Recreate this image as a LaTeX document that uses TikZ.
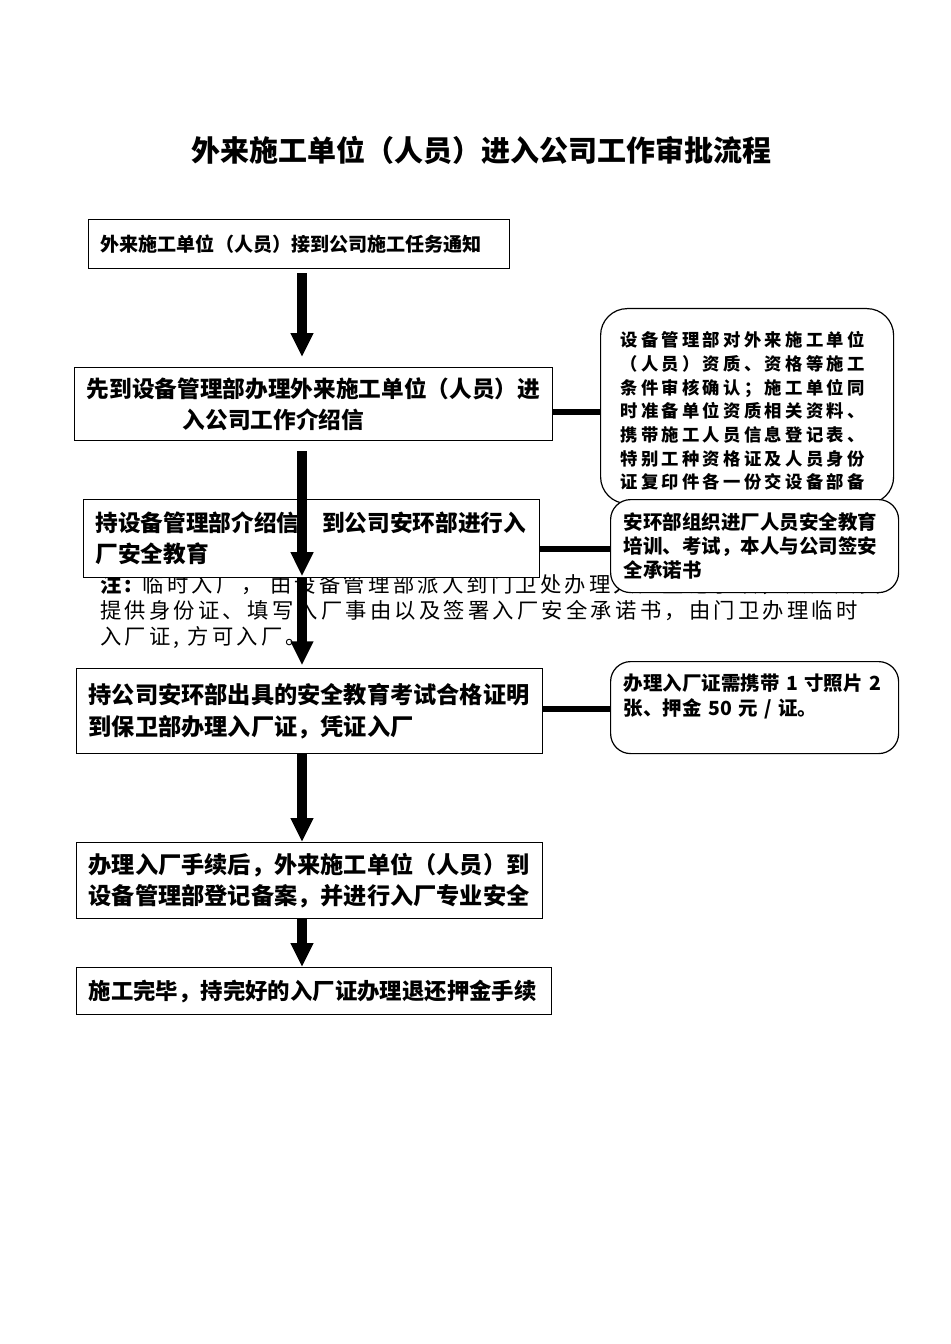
\documentclass[tikz,border=0pt]{standalone}
\usepackage{fontspec}
\setmainfont{Noto Sans CJK SC}
\newfontfamily\notefont{Noto Sans CJK SC}[LetterSpace=15]
\newfontfamily\sidefont{Noto Sans CJK SC}[LetterSpace=19]
\usetikzlibrary{arrows.meta}
\begin{document}
\begin{tikzpicture}[x=0.75pt,y=-0.75pt]
\tikzset{
  flowbox/.style={draw=black, line width=0.9pt, fill=white, rectangle, anchor=north west,
    align=left, inner ysep=0pt, inner xsep=9pt},
  sidebox/.style={draw=black, line width=0.9pt, fill=white, rectangle, rounded corners=15pt,
    anchor=north west, align=left, inner ysep=0pt},
  arr/.style={line width=7.5pt, -{Triangle[width=16pt,length=18pt]}},
  conn/.style={line width=5pt}
}
\useasboundingbox (0,0) rectangle (950,1344);

% title
\node[font=\bfseries\fontsize{21.75pt}{26pt}\selectfont, inner sep=0pt] (title) at (481,150)
  {外来施工单位（人员）进入公司工作审批流程};

% note (drawn first, partly covered)
\node[anchor=north west, inner sep=0pt, align=left,
      font=\notefont\fontsize{16pt}{19.5pt}\selectfont] (note) at (100,574)
  {{\bfseries 注:} 临时入厂， 由设备管理部派人到门卫处办理入厂登记手续，入厂人员\\
   提供身份证、填写入厂事由以及签署入厂安全承诺书，由门卫办理临时\\
   入厂证, 方可入厂。};

% main boxes
\node[flowbox, minimum width=315.75pt, minimum height=36.75pt, text width=297.75pt,
      font=\bfseries\fontsize{14.3pt}{18pt}\selectfont] (b1) at (88,219)
  {外来施工单位（人员）接到公司施工任务通知};

\node[flowbox, minimum width=358.5pt, minimum height=54.75pt, text width=340pt, inner xsep=9.25pt,
      font=\bfseries\fontsize{17pt}{23.25pt}\selectfont] (b2) at (74,367)
  {先到设备管理部办理外来施工单位（人员）进\\
   \hspace*{72pt}入公司工作介绍信};

\node[flowbox, minimum width=342pt, minimum height=58.5pt, text width=324pt,
      font=\bfseries\fontsize{17pt}{23.25pt}\selectfont] (b3) at (83,499)
  {持设备管理部介绍信\hspace{1em}到公司安环部进行入\\
   厂安全教育};

\node[flowbox, minimum width=349.5pt, minimum height=63.75pt, text width=331.5pt,
      font=\bfseries\fontsize{17.4pt}{24pt}\selectfont] (b4) at (76,668)
  {持公司安环部出具的安全教育考试合格证明\\
   到保卫部办理入厂证，凭证入厂};

\node[flowbox, minimum width=349.5pt, minimum height=57pt, text width=331.5pt,
      font=\bfseries\fontsize{17.4pt}{23.25pt}\selectfont] (b5) at (76,842)
  {办理入厂手续后，外来施工单位（人员）到\\
   设备管理部登记备案，并进行入厂专业安全};

\node[flowbox, minimum width=356.25pt, minimum height=35.25pt, text width=338.25pt,
      font=\bfseries\fontsize{16.8pt}{20pt}\selectfont] (b6) at (76,967)
  {施工完毕，持完好的入厂证办理退还押金手续};

% side boxes
\node[sidebox, rounded corners=20pt, minimum width=219.75pt, minimum height=146.25pt,
      text width=190pt, inner xsep=14.875pt,
      font=\sidefont\bfseries\fontsize{13pt}{17.75pt}\selectfont] (sa) at (600,308)
  {\rule{0pt}{19pt}设备管理部对外来施工单位\\
   （人员）资质、资格等施工\\
   条件审核确认；施工单位同\\
   时准备单位资质相关资料、\\
   携带施工人员信息登记表、\\
   特别工种资格证及人员身份\\
   证复印件各一份交设备部备};

\node[sidebox, minimum width=216pt, minimum height=69.75pt, text width=196pt, inner xsep=10pt,
      font=\bfseries\fontsize{14.6pt}{18pt}\selectfont] (sb) at (610,499)
  {安环部组织进厂人员安全教育\\
   培训、考试，本人与公司签安\\
   全承诺书};

\node[sidebox, minimum width=216pt, minimum height=69pt, text width=196pt, inner xsep=10pt,
      font=\bfseries\fontsize{14.6pt}{18.75pt}\selectfont] (sc) at (610,661)
  {办理入厂证需携带 1 寸照片 2\\
   张、押金 50 元 / 证。\\
   \mbox{}};

% arrows
\coordinate (ax) at (302,0);
\draw[arr, shorten <=3pt, shorten >=7.5pt] (b1.south -| ax) -- (b2.north -| ax);
\draw[arr, shorten <=7.5pt, shorten >=1.5pt] (b2.south -| ax) -- (b3.south -| ax);
\draw[arr, shorten >=2pt] (b3.south -| ax) -- (b4.north -| ax);
\draw[arr] (b4.south -| ax) -- (b5.north -| ax);
\draw[arr] (b5.south -| ax) -- (b6.north -| ax);

% side connectors
\coordinate (k1) at (0,412);
\coordinate (k2) at (0,549);
\coordinate (k3) at (0,709);
\draw[conn] (b2.east |- k1) -- (sa.west |- k1);
\draw[conn] (b3.east |- k2) -- (sb.west |- k2);
\draw[conn] (b4.east |- k3) -- (sc.west |- k3);
\end{tikzpicture}
\end{document}
